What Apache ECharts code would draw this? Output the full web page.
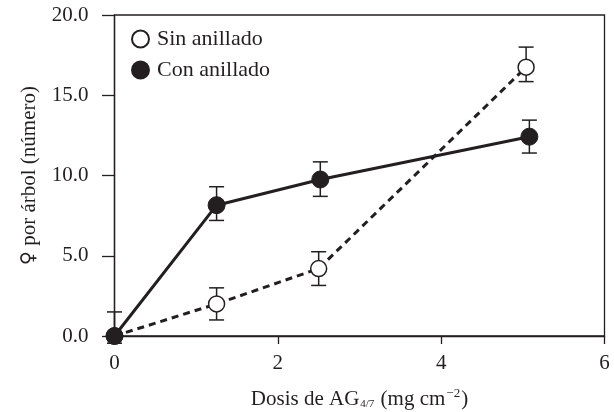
<!DOCTYPE html>
<html>
<head>
<meta charset="utf-8">
<script src="https://cdn.jsdelivr.net/npm/echarts@6/dist/echarts.min.js"></script>
<style>
html,body{margin:0;padding:0;background:#fff;}
#c{width:614px;height:412px;}
</style>
</head>
<body>
<div id="c"></div>
<script>
const seriesNames = ['Sin anillado', 'Con anillado'];
const xSin = [0, 1.25, 2.5, 5.04];
const ySin = [0, 2.0, 4.2, 16.75];
const errSinLow = [null, 1.0, 3.15, 15.85];
const errSinHigh = [null, 3.0, 5.25, 18.0];
const xCon = [0, 1.25, 2.52, 5.08];
const yCon = [0, 8.15, 9.75, 12.42];
const errConLow = [-0.45, 7.2, 8.7, 11.4];
const errConHigh = [1.5, 9.3, 10.85, 13.45];
const xTicks = [0, 2, 4, 6];
const yTicks = [0, 5, 10, 15, 20];

const FONT = '"Liberation Serif", "DejaVu Serif", serif';
const INK = '#231f20';

function pairs(xs, ys) { return xs.map((x, i) => [x, ys[i]]); }
function errData(xs, lo, hi) {
  const out = [];
  xs.forEach((x, i) => { if (lo[i] != null) out.push([x, lo[i], hi[i]]); });
  return out;
}
function errRender(params, api) {
  const x = api.value(0);
  const p1 = api.coord([x, api.value(1)]);
  const p2 = api.coord([x, api.value(2)]);
  const w = 7.5;
  const st = { stroke: INK, lineWidth: 1.5 };
  return {
    type: 'group',
    children: [
      { type: 'line', shape: { x1: p1[0], y1: p1[1], x2: p2[0], y2: p2[1] }, style: st },
      { type: 'line', shape: { x1: p1[0] - w, y1: p1[1], x2: p1[0] + w, y2: p1[1] }, style: st },
      { type: 'line', shape: { x1: p2[0] - w, y1: p2[1], x2: p2[0] + w, y2: p2[1] }, style: st }
    ]
  };
}

const chart = echarts.init(document.getElementById('c'), null, { renderer: 'canvas' });
chart.setOption({
  animation: false,
  backgroundColor: '#fff',
  textStyle: { fontFamily: FONT, color: INK },
  grid: {
    left: 114.5, right: 9.5, top: 15, bottom: 76,
    outerBoundsMode: 'none', containLabel: false,
    show: true, borderColor: INK, borderWidth: 1.3, backgroundColor: 'transparent'
  },
  legend: {
    orient: 'vertical', left: 126, top: 23,
    itemWidth: 17, itemHeight: 17, itemGap: 9,
    icon: 'circle',
    data: seriesNames,
    textStyle: { fontFamily: FONT, fontSize: 22, color: INK, padding: [0, 0, 0, 3] }
  },
  xAxis: {
    type: 'value', min: 0, max: 6, interval: 2,
    axisLine: { show: true, lineStyle: { color: INK, width: 1.3 } },
    axisTick: { show: true, inside: false, length: 8, lineStyle: { color: INK, width: 1.3 } },
    splitLine: { show: false },
    axisLabel: {
      margin: 17, fontFamily: FONT, fontSize: 21, color: INK,
      customValues: xTicks
    },
    name: '{a|Dosis de AG}{s|4/7}{a| (mg cm}{p|−2}{a|)}',
    nameLocation: 'middle', nameGap: 48,
    nameTextStyle: {
      fontFamily: FONT, color: INK,
      rich: {
        a: { fontFamily: FONT, fontSize: 21, color: INK, verticalAlign: 'bottom', lineHeight: 26 },
        s: { fontFamily: FONT, fontSize: 11, color: INK, verticalAlign: 'bottom', lineHeight: 14, padding: [0, 1, 0, 1] },
        p: { fontFamily: FONT, fontSize: 13, color: INK, verticalAlign: 'bottom', lineHeight: 14, padding: [0, 1, 10, 1] }
      }
    }
  },
  yAxis: {
    type: 'value', min: 0, max: 20, interval: 5,
    axisLine: { show: true, lineStyle: { color: INK, width: 1.3 } },
    axisTick: { show: true, inside: false, length: 12.5, lineStyle: { color: INK, width: 1.3 } },
    splitLine: { show: false },
    axisLabel: {
      margin: 26, fontFamily: FONT, fontSize: 21, color: INK,
      formatter: v => v.toFixed(1),
      customValues: yTicks
    },
    name: '{f|♀}{a| por árbol (número)}',
    nameLocation: 'middle', nameGap: 72, nameRotate: 90,
    nameTextStyle: {
      fontFamily: FONT, fontSize: 21, color: INK,
      rich: {
        f: { fontFamily: '"DejaVu Sans", sans-serif', fontSize: 19, color: INK, lineHeight: 26 },
        a: { fontFamily: FONT, fontSize: 21, color: INK, lineHeight: 26 }
      }
    }
  },
  series: [
    {
      type: 'custom', name: 'errSin', renderItem: errRender, clip: false, z: 1,
      data: errData(xSin, errSinLow, errSinHigh), silent: true
    },
    {
      type: 'custom', name: 'errCon', renderItem: errRender, clip: false, z: 1,
      data: errData(xCon, errConLow, errConHigh), silent: true
    },
    {
      type: 'line', name: seriesNames[0], data: pairs(xSin, ySin), z: 3,
      symbol: 'circle', symbolSize: 16, showAllSymbol: true,
      lineStyle: { color: INK, width: 3, type: [7, 5] },
      itemStyle: { color: '#fff', borderColor: INK, borderWidth: 1.5 }
    },
    {
      type: 'line', name: seriesNames[1], data: pairs(xCon, yCon), z: 4,
      symbol: 'circle', symbolSize: 17, showAllSymbol: true,
      lineStyle: { color: INK, width: 3 },
      itemStyle: { color: INK, borderColor: INK, borderWidth: 1 }
    }
  ]
});
</script>
</body>
</html>
